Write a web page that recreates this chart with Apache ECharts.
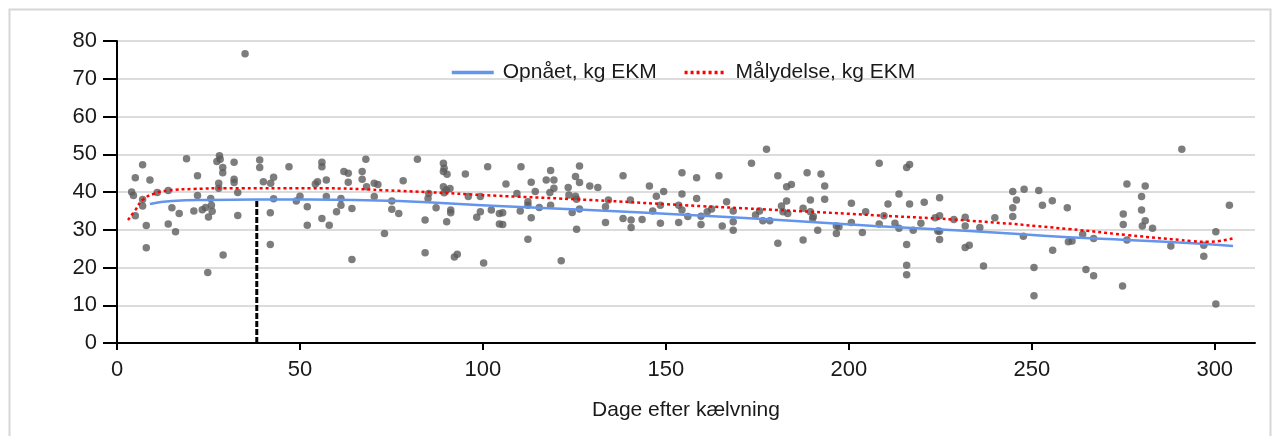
<!DOCTYPE html>
<html><head><meta charset="utf-8">
<script src="https://cdn.jsdelivr.net/npm/echarts@6/dist/echarts.min.js"></script>
<style>html,body{margin:0;padding:0;background:#fff}#c{width:1279px;height:436px}</style>
</head><body><div id="c"></div><script>
// ---- data ----
const xTickValues = [0, 50, 100, 150, 200, 250, 300];
const achievedDays = [9, 15, 25, 38, 53, 77, 104, 129, 155, 181, 207, 233, 260, 276, 294, 305];
const achievedKg   = [36.8, 37.6, 37.9, 38, 38, 37.6, 36.3, 35.2, 34, 32.6, 31, 29.7, 28, 27.3, 26.4, 25.7];
const targetDays = [3, 5, 7, 10, 14, 21, 30, 53, 77, 104, 129, 155, 181, 208, 233, 260, 276, 294, 298, 305];
const targetKg   = [32.6, 35.2, 37.9, 39.5, 40.4, 40.8, 41, 41, 40.3, 39, 37.9, 36.5, 35.2, 33.8, 32.4, 30.2, 28.6, 27, 26.8, 27.7];
const markerDay = 38.2;
const markerKg = 37.9;
const observations = [
[7,47.2],[5,43.8],[9,43.2],[4,40],[4.5,39.1],[5,33.7],[7,36.3],[7,38],[8,31.1],[8,25.2],[11,39.9],[14,40.4],[15,35.8],[14,31.5],[16,29.5],[17,34.3],[19,48.8],[21,35],[22,44.3],[22,39.1],[23.3,35.3],[24.2,35.9],[25,33.4],[24.8,18.7],[25.6,38.3],[25.8,36.5],[26,34.9],[27.3,48.1],[28,49.6],[28.2,48.7],[28.9,46.5],[28.9,45.1],[27.8,42.3],[27.8,41],[29,23.3],[32,47.9],[32,43.4],[32,42.5],[33,39.9],[33,33.8],[35,76.6],[39,48.5],[39,46.5],[40,42.7],[42,42.3],[42.8,43.9],[42.8,38.2],[41.9,34.5],[41.9,26.1],[47,46.7],[49,37.6],[50,38.9],[52,36.1],[52,31.2],
[54.2,42.1],[54.8,42.7],[56,47.9],[56,46.7],[57.2,43.2],[57.2,38.8],[56,33],[58,31.2],[60,34.8],[61.2,38.3],[61.2,36.5],[62,45.4],[63.2,45],[63.2,42.6],[64.2,35.6],[64.2,22.1],[67,45.4],[67,43.4],[68,48.7],[68.2,41.4],[70.3,42.3],[71.3,42],[70.3,38.8],[73.1,29],[75.1,37.6],[75.1,35.4],[77,34.3],[78.2,43],[82.1,48.7],[84.2,32.6],[84.2,23.9],[85.2,39.6],[85,38.3],[87.2,35.8],[89.2,47.6],[89.4,46.3],[89.2,45.4],[90.2,44.7],[89.2,41.4],[90,40.5],[89.4,39.8],[91,40.9],[90.1,32.1],[91.2,35.2],[91.2,34.5],[92.2,22.8],[93,23.5],[95.2,44.8],[96,38.8],[99.3,38.8],[98.3,33.3],[99.3,34.8],[100.2,21.2],[101.3,46.7],[102.3,35.2],[104.5,34.3],[104.5,31.5],
[105.4,34.5],[105.4,31.4],[106.3,42.1],[109.3,39.6],[110.4,46.7],[110.2,35],[112.3,37.4],[112.3,36.5],[112.3,27.5],[113.2,42.6],[113.2,33.2],[114.3,40.1],[115.4,35.9],[117.3,43.2],[118.5,45.7],[119.4,43.2],[118.3,39.9],[119.4,41],[118.5,36.5],[121.4,21.8],[123.3,41.2],[123.5,39.2],[125.3,44.1],[126.4,46.9],[126.4,42.5],[125.3,38.9],[125.6,38.1],[124.4,34.6],[125.6,30.1],[126.4,35.5],[129.2,41.6],[131.4,41.2],[133.5,36.1],[134.3,37.9],[133.5,31.9],[138.3,44.3],[138.3,33],[140.3,37.9],[140.5,32.6],[140.5,30.6],[143.5,32.7],[145.5,41.6],[146.4,35],[147.4,38.9],[148.5,36.5],[149.4,40.1],[148.5,31.7],[154.4,45.1],[154.4,39.5],[153.5,36.5],[154.4,35.2],[153.5,31.9],[156,33.5],
[158.4,43.8],[158.4,38.3],[159.6,33.6],[159.6,31.4],[161.3,34.8],[162.5,35.5],[164.5,44.3],[165.4,31],[166.6,37.4],[168.4,35],[168.4,32.1],[168.4,29.9],[173.4,47.6],[174.5,33.9],[175.6,35],[176.5,32.4],[178.4,32.4],[177.5,51.3],[180.6,44.3],[180.6,26.4],[181.6,36.3],[182,34.8],[183,37.6],[183,41.4],[184.3,42],[183.3,34.3],[187.5,27.3],[187.5,35.7],[188.6,45.1],[189.5,37.9],[189.5,34.8],[190.3,33.5],[190.1,33],[191.5,29.9],[192.4,44.8],[193.4,41.6],[193.4,38.1],[196.6,31],[196.6,29],[197.3,30.8],[200.7,37],[200.7,31.9],[203.7,29.3],[204.6,34.8],[208.3,47.6],[208.3,31.5],
[209.6,33.7],[210.7,36.8],[212.6,31.7],[213.7,30.4],[213.7,39.5],[215.8,46.5],[216.6,47.3],[216.6,36.8],[215.8,26.1],[215.8,20.6],[215.8,18.1],[217.6,29.9],[219.7,31.7],[220.6,37.3],[223.6,33.2],[224.3,29.7],[224.8,29.6],[224.8,27.4],[224.8,38.5],[224.8,33.7],[228.7,32.7],[231.8,33.3],[231.8,31],[231.8,25.3],[232.9,25.9],[235.8,30.6],[236.8,20.4],[239.9,33.2],[244.8,40.1],[245.8,37.9],[244.8,35.8],[244.8,33.5],[247.9,40.7],[247.7,28.3],[250.6,20],[250.6,12.5],[251.9,40.4],[252.9,36.5],[255.6,37.7],[255.7,24.6],[259.7,35.8],[260,26.8],
[261,27],[263.9,28.8],[266.9,27.7],[264.8,19.5],[266.9,17.8],[274.8,15.1],[275,34.2],[275,31.4],[276,42.1],[276,27.3],[280,38.8],[280,35.2],[280.2,31],[281,32.4],[281,41.6],[283,30.4],[288,25.7],[291,51.3],[297,25.9],[297,23],[300.3,29.5],[300.3,10.3],[304,36.5]
];
const seriesNames = ['Opnået, kg EKM', 'Målydelse, kg EKM'];
const xAxisName = 'Dage efter kælvning';

// ---- chart ----
const font = 'Liberation Sans, Arial, sans-serif';
const chart = echarts.init(document.getElementById('c'), null, {renderer: 'canvas'});
const zip = (a, b) => a.map((v, i) => [v, b[i]]);
chart.setOption({
  animation: false,
  backgroundColor: '#fff',
  textStyle: {fontFamily: font, color: '#1a1a1a'},
  graphic: [{type: 'rect', shape: {x: 9.5, y: 9.5, width: 1261, height: 450}, style: {fill: 'none', stroke: '#d6d6d6', lineWidth: 2}, silent: true}],
  grid: {left: 117, right: 24, top: 41, bottom: 93, containLabel: false},
  legend: {
    data: seriesNames, left: 445, top: 57, itemWidth: 42, itemHeight: 14, itemGap: 26,
    itemStyle: {opacity: 0},
    lineStyle: {width: 3.5},
    textStyle: {fontFamily: font, fontSize: 21, color: '#1a1a1a', padding: [0, 0, 0, 4]}
  },
  xAxis: {
    type: 'value', min: 0, max: 311, interval: 50,
    name: xAxisName, nameLocation: 'middle', nameGap: 57,
    nameTextStyle: {fontFamily: font, fontSize: 21, color: '#1a1a1a'},
    axisLine: {show: true, onZero: false, lineStyle: {color: '#000', width: 2}},
    axisTick: {show: true, length: 7, lineStyle: {color: '#000', width: 2}, customValues: xTickValues},
    axisLabel: {fontFamily: font, fontSize: 22, color: '#1a1a1a', margin: 16, customValues: xTickValues},
    splitLine: {show: false}
  },
  yAxis: {
    type: 'value', min: 0, max: 80, interval: 10,
    axisLine: {show: true, lineStyle: {color: '#000', width: 2}},
    axisTick: {show: true, length: 14, lineStyle: {color: '#000', width: 2}},
    axisLabel: {fontFamily: font, fontSize: 22, color: '#1a1a1a', margin: 20},
    splitLine: {show: true, lineStyle: {color: '#dcdcdc', width: 2}}
  },
  series: [
    {type: 'scatter', name: 'obs', data: observations, symbolSize: 7.5, itemStyle: {color: '#5c5c5c'}, z: 2},
    {type: 'line', name: seriesNames[0], data: zip(achievedDays, achievedKg), smooth: true, symbol: 'none', showSymbol: false,
      lineStyle: {color: '#6495ED', width: 2.5}, itemStyle: {color: '#6495ED'}, z: 3},
    {type: 'line', name: seriesNames[1], data: zip(targetDays, targetKg), smooth: true, symbol: 'none', showSymbol: false,
      lineStyle: {color: '#FF0000', width: 2.5, type: [3, 3]}, itemStyle: {color: '#FF0000'}, z: 4},
    {type: 'line', name: 'marker', data: [[markerDay, 0], [markerDay, markerKg]], symbol: 'none', showSymbol: false,
      lineStyle: {color: '#000', width: 3, type: [6, 2]}, z: 5}
  ]
});
</script></body></html>
